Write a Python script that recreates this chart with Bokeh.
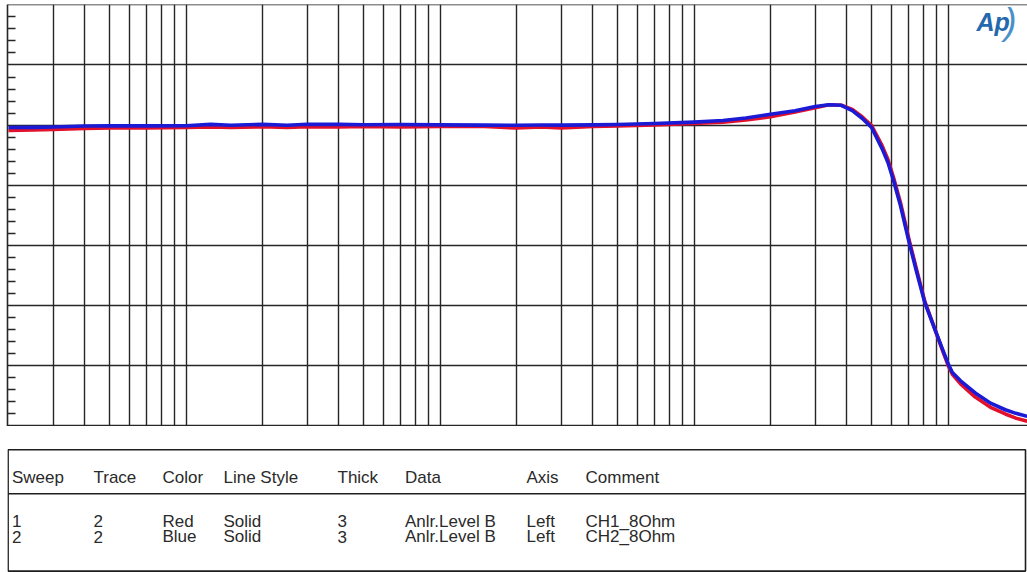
from bokeh.plotting import figure
from bokeh.models import Range1d, FixedTicker, LinearAxis, Grid, Label, ColumnDataSource
from bokeh.layouts import column
from bokeh.embed import file_html
from bokeh.resources import INLINE
from bokeh.core.properties import value

# ---------------- data ----------------
freq_hz = [20, 25, 30, 40, 50, 70, 100, 125, 150, 200, 250, 300, 400, 500, 700,
           1000, 1500, 2000, 2500, 3000, 4000, 5000, 7000, 10000, 13000, 16000,
           20000, 25000, 30000, 34000, 38000, 42000, 46000, 50000, 55000, 58000,
           61000, 65000, 70000, 75000, 81000, 90000, 95000, 100000, 104000, 112000,
           128000, 147000, 168000, 185000, 205000]

ch1_8ohm_db = [-0.09, -0.08, -0.073, -0.053, -0.048, -0.045, -0.037, -0.032, -0.037,
               -0.028, -0.04, -0.028, -0.032, -0.023, -0.032, -0.023, -0.023, -0.048,
               -0.032, -0.048, -0.023, -0.015, 0.002, 0.027, 0.05, 0.085, 0.14, 0.22,
               0.29, 0.34, 0.33, 0.26, 0.135, -0.007, -0.34, -0.57, -0.87, -1.29,
               -1.88, -2.38, -2.93, -3.46, -3.74, -3.99, -4.14, -4.30, -4.52, -4.69,
               -4.80, -4.87, -4.92]

ch2_8ohm_db = [-0.04, -0.037, -0.03, -0.015, -0.012, -0.012, -0.01, 0.013, -0.003,
               0.013, -0.003, 0.015, 0.013, 0.007, 0.01, 0.005, 0.0, -0.003, 0.002,
               0.0, 0.005, 0.01, 0.027, 0.05, 0.076, 0.12, 0.18, 0.24, 0.31, 0.34,
               0.33, 0.24, 0.11, -0.04, -0.39, -0.62, -0.92, -1.34, -1.92, -2.42,
               -2.95, -3.46, -3.72, -3.96, -4.11, -4.25, -4.45, -4.62, -4.73, -4.79,
               -4.84]

x_grid_hz = [30, 40, 50, 60, 70, 80, 90,
             100, 200, 300, 400, 500, 600, 700, 800, 900,
             1000, 2000, 3000, 4000, 5000, 6000, 7000, 8000, 9000,
             10000, 20000, 30000, 40000, 50000, 60000, 70000, 80000, 90000,
             100000]
y_major_db = [-5, -4, -3, -2, -1, 0, 1, 2]
y_minor_db = [-4.8, -4.6, -4.4, -4.2, -3.8, -3.6, -3.4, -3.2, -2.8, -2.6, -2.4, -2.2,
              -1.8, -1.6, -1.4, -1.2, -0.8, -0.6, -0.4, -0.2, 0.2, 0.4, 0.6, 0.8,
              1.2, 1.4, 1.6, 1.8]

table_headers = ["Sweep", "Trace", "Color", "Line Style", "Thick", "Data", "Axis", "Comment"]
sweep_col = ["1", "2"]
trace_col = ["2", "2"]
color_col = ["Red", "Blue"]
style_col = ["Solid", "Solid"]
thick_col = ["3", "3"]
data_col = ["Anlr.Level B", "Anlr.Level B"]
axis_col = ["Left", "Left"]
comment_col = ["CH1_8Ohm", "CH2_8Ohm"]

# ---------------- layout / style ----------------
W = 1027
CHART_H = 426
TABLE_H = 146
FRAME_LEFT = 7
FRAME_TOP = 4
PX_PER_DECADE = 254.0
PX_PER_DB = 60.17
F_START = 20 * 10 ** (-1 / PX_PER_DECADE)
F_END = 20 * 10 ** ((W - 8) / PX_PER_DECADE)
Y_TOP = 2 + 0.3 / PX_PER_DB
Y_BOTTOM = Y_TOP - (CHART_H - FRAME_TOP) / PX_PER_DB
GRID_COLOR = "#262626"
RED = "#e3102c"
BLUE = "#1b1bd6"
FONT = "Liberation Sans"
TEXT_COLOR = "#2a2a2a"

chart = figure(width=W, height=CHART_H, output_backend="svg", toolbar_location=None,
               x_axis_type="log", x_axis_location=None, y_axis_location=None,
               x_range=Range1d(F_START, F_END), y_range=Range1d(Y_BOTTOM, Y_TOP),
               min_border_left=FRAME_LEFT, min_border_right=0,
               min_border_top=FRAME_TOP, min_border_bottom=0,
               background_fill_color="white", border_fill_color="white")
chart.outline_line_color = None

yaxis = LinearAxis(ticker=FixedTicker(ticks=[], minor_ticks=y_minor_db),
                   major_tick_in=0, major_tick_out=0,
                   minor_tick_in=8, minor_tick_out=0,
                   minor_tick_line_color=GRID_COLOR, minor_tick_line_width=1.6,
                   axis_line_color=GRID_COLOR, axis_line_width=1.6)
chart.add_layout(yaxis, "left")

chart.add_layout(Grid(dimension=0, ticker=FixedTicker(ticks=x_grid_hz),
                      grid_line_color=GRID_COLOR, grid_line_width=1.4))
chart.add_layout(Grid(dimension=1, ticker=FixedTicker(ticks=y_major_db),
                      grid_line_color=GRID_COLOR, grid_line_width=1.4))

src = ColumnDataSource(dict(f=freq_hz, ch1=ch1_8ohm_db, ch2=ch2_8ohm_db))
chart.line("f", "ch1", source=src, line_color=RED, line_width=3.6, line_join="round")
chart.line("f", "ch2", source=src, line_color=BLUE, line_width=3.6, line_join="round")

# Audio Precision logo (screen units are relative to the frame)
chart.add_layout(Label(x=976 - FRAME_LEFT, y=CHART_H - 35, x_units="screen", y_units="screen",
                       text="Ap", text_font=FONT, text_font_style="bold italic",
                       text_font_size="25px", text_color="#2468ad"))
chart.add_layout(Label(x=1004 - FRAME_LEFT, y=CHART_H - 41, x_units="screen", y_units="screen",
                       text=")", text_font=FONT, text_font_style="italic",
                       text_font_size="36px", text_color="#4a90c8"))

# ---------------- table ----------------
table = figure(width=W, height=TABLE_H, output_backend="svg", toolbar_location=None,
               x_axis_location=None, y_axis_location=None,
               x_range=Range1d(FRAME_LEFT, W), y_range=Range1d(CHART_H + TABLE_H, CHART_H),
               min_border_left=FRAME_LEFT, min_border_right=0,
               min_border_top=0, min_border_bottom=0)
table.outline_line_color = None
table.xgrid.visible = False
table.ygrid.visible = False

BOX_L, BOX_R, BOX_T, BOX_B, SEP_Y = 7.6, 1025, 449.3, 570.6, 493.3
table.quad(left=[BOX_L], right=[BOX_R], top=[BOX_T], bottom=[BOX_B],
           fill_alpha=0, line_color="#1e1e1e", line_width=1.6)
table.segment(x0=[BOX_L], x1=[BOX_R], y0=[SEP_Y], y1=[SEP_Y],
              line_color="#1e1e1e", line_width=1.6)

col_x = [11.5, 93, 162, 223, 337, 404.5, 526, 585]
header_y = 477
row_y = [520.5, 536]

columns = [sweep_col, trace_col, color_col, style_col, thick_col, data_col, axis_col, comment_col]
tx, ty, tt = [], [], []
for cx, h in zip(col_x, table_headers):
    tx.append(cx); ty.append(header_y); tt.append(h)
for cx, col in zip(col_x, columns):
    for ry, cell in zip(row_y, col):
        tx.append(cx); ty.append(ry); tt.append(cell)

table.text(x=tx, y=ty, text=tt, text_font=value(FONT), text_font_size=value("17px"),
           text_color=TEXT_COLOR, text_baseline="alphabetic", text_align="left")

layout = column(chart, table, spacing=0)
open("out.html", "w").write(file_html(layout, INLINE))
